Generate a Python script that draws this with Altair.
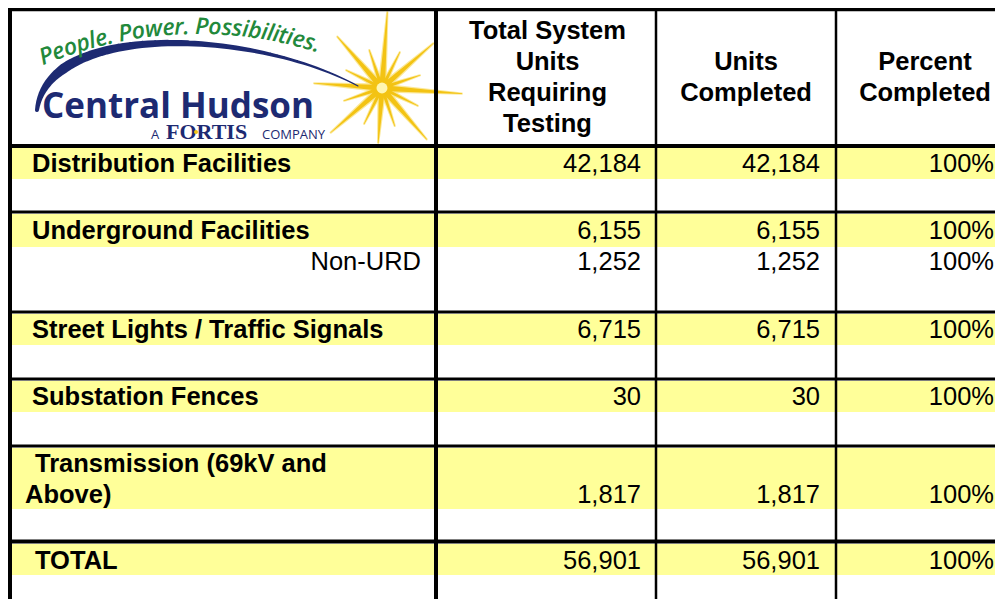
import math
import altair as alt
import pandas as pd

# ------------------------------------------------------------------ data
row_labels = ["Distribution Facilities", "Underground Facilities", "Non-URD",
              "Street Lights / Traffic Signals", "Substation Fences",
              "Transmission (69kV and\nAbove)", "TOTAL"]
row_is_main = [True, True, False, True, True, True, True]
units_required = [42184, 6155, 1252, 6715, 30, 1817, 56901]
units_completed = [42184, 6155, 1252, 6715, 30, 1817, 56901]
percent_completed = [1.00, 1.00, 1.00, 1.00, 1.00, 1.00, 1.00]
header_labels = ["Total System\nUnits\nRequiring\nTesting", "Units\nCompleted", "Percent\nCompleted"]
logo_tagline = "People. Power. Possibilities."
logo_name = "Central Hudson"
logo_sub = ["A", "FORTIS", "COMPANY"]

# ------------------------------------------------------------------ layout (page pixels)
W, H = 987, 591
FONT = "Liberation Sans"
FS = 25.5
xs = alt.Scale(domain=[8, 8 + W], range=[0, W])
ys = alt.Scale(domain=[8, 8 + H], range=[0, H])

col_right = [641, 820, 994]
col_center = [547.5, 746, 925]
header_baselines = [[38.5, 69.5, 100.5, 131.5], [69.5, 100.5], [69.5, 100.5]]
value_baseline = [172, 239, 270, 338, 405, 503, 569]
label_x = [32, 32, 421, 32, 32, 35, 35]
label_x_second = 25
line_gap = 31
yellow_bands = [(148, 179), (214, 247), (314, 345), (381, 412), (448, 509), (544, 575)]
h_rules = [(9.5, 3.5), (146, 4), (212, 3), (312, 3), (379, 3), (446, 3), (541.5, 4)]
v_rules = [(10, 4), (436, 4), (656, 2.5), (836, 2.5)]


def X(f):
    return alt.X(f"{f}:Q", scale=xs, axis=None)


def Y(f):
    return alt.Y(f"{f}:Q", scale=ys, axis=None)


# ------------------------------------------------------------------ tables
bands_df = pd.DataFrame([{"x": 12, "x2": 8 + W, "y": a, "y2": b} for a, b in yellow_bands])
hr_df = pd.DataFrame([{"x": 8, "x2": 8 + W, "y": y, "w": w} for y, w in h_rules])
vr_df = pd.DataFrame([{"x": x, "y": 8, "y2": 8 + H, "w": w} for x, w in v_rules])

lab_main, lab_sub = [], []
for i, lab in enumerate(row_labels):
    parts = lab.split("\n")
    if row_is_main[i]:
        if len(parts) == 1:
            lab_main.append({"t": parts[0], "x": label_x[i], "y": value_baseline[i]})
        else:
            n = len(parts)
            for k, p in enumerate(parts):
                lab_main.append({"t": p, "x": label_x[i] if k == 0 else label_x_second,
                                 "y": value_baseline[i] - (n - 1 - k) * line_gap})
    else:
        lab_sub.append({"t": lab, "x": label_x[i], "y": value_baseline[i]})
lab_main_df = pd.DataFrame(lab_main)
lab_sub_df = pd.DataFrame(lab_sub)

cnt = []
for i in range(len(row_labels)):
    cnt.append({"v": units_required[i], "x": col_right[0], "y": value_baseline[i]})
    cnt.append({"v": units_completed[i], "x": col_right[1], "y": value_baseline[i]})
cnt_df = pd.DataFrame(cnt)
pct_df = pd.DataFrame([{"v": percent_completed[i], "x": col_right[2], "y": value_baseline[i]}
                       for i in range(len(row_labels))])

hdr = []
for c, h in enumerate(header_labels):
    for k, p in enumerate(h.split("\n")):
        hdr.append({"t": p, "x": col_center[c], "y": header_baselines[c][k]})
hdr_df = pd.DataFrame(hdr)

# ------------------------------------------------------------------ logo geometry
# tagline along an arc
adv = {'P': .60, 'e': .55, 'o': .60, 'p': .60, 'l': .27, '.': .27, ' ': .26, 'w': .80,
       'r': .40, 's': .47, 'i': .27, 'b': .60, 't': .35}
acx, acy, AR = 198, 433, 399
phi0 = math.asin((43 - acx) / AR)
phi1 = math.asin((318 - acx) / AR)
total_adv = sum(adv.get(ch, .55) for ch in logo_tagline)
arc_len = AR * (phi1 - phi0)
s = 0.0
tag_rows = []
for ch in logo_tagline:
    a = adv.get(ch, .55) / total_adv * arc_len
    mid = s + a / 2
    phi = phi0 + mid / AR
    tag_rows.append({"t": ch, "x": acx + AR * math.sin(phi), "y": acy - AR * math.cos(phi),
                     "ang": math.degrees(phi) % 360})
    s += a
tag_df = pd.DataFrame(tag_rows)

# swoosh as tapered trail along a cubic bezier
P = [(37, 110), (48, 22), (250, 28), (358, 86)]
sw = []
N = 60
for j in range(N + 1):
    t = j / N
    c = [(1 - t) ** 3, 3 * (1 - t) ** 2 * t, 3 * (1 - t) * t ** 2, t ** 3]
    x = sum(c[k] * P[k][0] for k in range(4))
    y = sum(c[k] * P[k][1] for k in range(4))
    if t < 0.2:
        w = 4 + 6 * t / 0.2
    else:
        w = 10 - 9 * (t - 0.2) / 0.8
    sw.append({"x": x, "y": y, "w": w, "o": j})
sw_df = pd.DataFrame(sw)

# starburst
scx, scy = 382, 88
rays = []
for r in range(16):
    ang = math.radians(r * 22.5 + 4)
    L = 68 if r % 2 == 0 else 40
    if r == 4:
        L = 80
    if r == 0:
        L = 76
    if r == 8:
        L = 55
    base = 6 if r % 2 == 0 else 4
    rays.append({"x": scx, "y": scy, "w": base, "o": 0, "r": r})
    rays.append({"x": scx + L * math.sin(ang), "y": scy - L * math.cos(ang), "w": 0.6, "o": 1, "r": r})
ray_df = pd.DataFrame(rays)
glow_df = pd.DataFrame([{"x": scx, "y": scy}])

name_df = pd.DataFrame([{"t": logo_name, "x": 42, "y": 118}])
sub_df = pd.DataFrame([{"t": logo_sub[0], "x": 151, "y": 139},
                       {"t": logo_sub[2], "x": 262, "y": 139}])
fortis_df = pd.DataFrame([{"t": logo_sub[1], "x": 166, "y": 139}])
dot_df = pd.DataFrame([{"x": 196, "y": 132}])

NAVY = "#1d2a72"
GREEN = "#22893b"

# ------------------------------------------------------------------ layers
bands = alt.Chart(bands_df).mark_rect(color="#ffff99").encode(
    x=X("x"), x2="x2:Q", y=Y("y"), y2="y2:Q")

ray_pale = alt.Chart(ray_df).mark_trail(color="#fbe58c", opacity=0.9).encode(
    x=X("x"), y=Y("y"), detail="r:N", order="o:Q",
    size=alt.Size("w:Q", scale=alt.Scale(domain=[0, 6], range=[1.5, 9]), legend=None))
ray_gold = alt.Chart(ray_df).mark_trail(color="#f3c313").encode(
    x=X("x"), y=Y("y"), detail="r:N", order="o:Q",
    size=alt.Size("w:Q", scale=None, legend=None))
glow = alt.Chart(glow_df).mark_circle(color="#fff6b0", size=120, opacity=1).encode(x=X("x"), y=Y("y"))

swoosh = alt.Chart(sw_df).mark_trail(color=NAVY).encode(
    x=X("x"), y=Y("y"), order="o:Q", size=alt.Size("w:Q", scale=None, legend=None))

tag = alt.Chart(tag_df).mark_text(font="Open Sans", fontSize=23, fontStyle="italic",
                                  fontWeight=600, color=GREEN, align="center",
                                  baseline="alphabetic").encode(
    x=X("x"), y=Y("y"), text="t:N", angle=alt.Angle("ang:Q", scale=None))

name = alt.Chart(name_df).mark_text(font="Open Sans", fontSize=35, fontWeight="bold",
                                    color=NAVY, align="left", baseline="alphabetic").encode(
    x=X("x"), y=Y("y"), text="t:N")
sub = alt.Chart(sub_df).mark_text(font="Open Sans", fontSize=13, color=NAVY,
                                  align="left", baseline="alphabetic").encode(
    x=X("x"), y=Y("y"), text="t:N")
fortis = alt.Chart(fortis_df).mark_text(font="Liberation Serif", fontSize=22, fontWeight="bold",
                                        color=NAVY, align="left", baseline="alphabetic").encode(
    x=X("x"), y=Y("y"), text="t:N")
dot = alt.Chart(dot_df).mark_circle(color="#f3c313", size=16, opacity=1).encode(x=X("x"), y=Y("y"))

hr = alt.Chart(hr_df).mark_rule(color="black").encode(
    x=X("x"), x2="x2:Q", y=Y("y"), strokeWidth=alt.StrokeWidth("w:Q", scale=None, legend=None))
vr = alt.Chart(vr_df).mark_rule(color="black").encode(
    x=X("x"), y=Y("y"), y2="y2:Q", strokeWidth=alt.StrokeWidth("w:Q", scale=None, legend=None))

labels_main = alt.Chart(lab_main_df).mark_text(font=FONT, fontSize=FS, fontWeight="bold",
                                               color="black", align="left",
                                               baseline="alphabetic").encode(
    x=X("x"), y=Y("y"), text="t:N")
labels_sub = alt.Chart(lab_sub_df).mark_text(font=FONT, fontSize=FS, color="black",
                                             align="right", baseline="alphabetic").encode(
    x=X("x"), y=Y("y"), text="t:N")
counts = alt.Chart(cnt_df).mark_text(font=FONT, fontSize=FS, color="black", align="right",
                                     baseline="alphabetic").encode(
    x=X("x"), y=Y("y"), text=alt.Text("v:Q", format=","))
pcts = alt.Chart(pct_df).mark_text(font=FONT, fontSize=FS, color="black", align="right",
                                   baseline="alphabetic").encode(
    x=X("x"), y=Y("y"), text=alt.Text("v:Q", format=".0%"))
headers = alt.Chart(hdr_df).mark_text(font=FONT, fontSize=FS, fontWeight="bold", color="black",
                                      align="center", baseline="alphabetic").encode(
    x=X("x"), y=Y("y"), text="t:N")

chart = alt.layer(
    bands, ray_pale, ray_gold, glow, swoosh, tag, name, sub, fortis, dot,
    hr, vr, labels_main, labels_sub, counts, pcts, headers
).resolve_scale(size="independent").properties(
    width=W, height=H, autosize=alt.AutoSizeParams(type="none"), padding=0,
    background="white"
).configure_view(stroke=None)

chart.save("out.html", embed_options={"renderer": "svg", "actions": False})
